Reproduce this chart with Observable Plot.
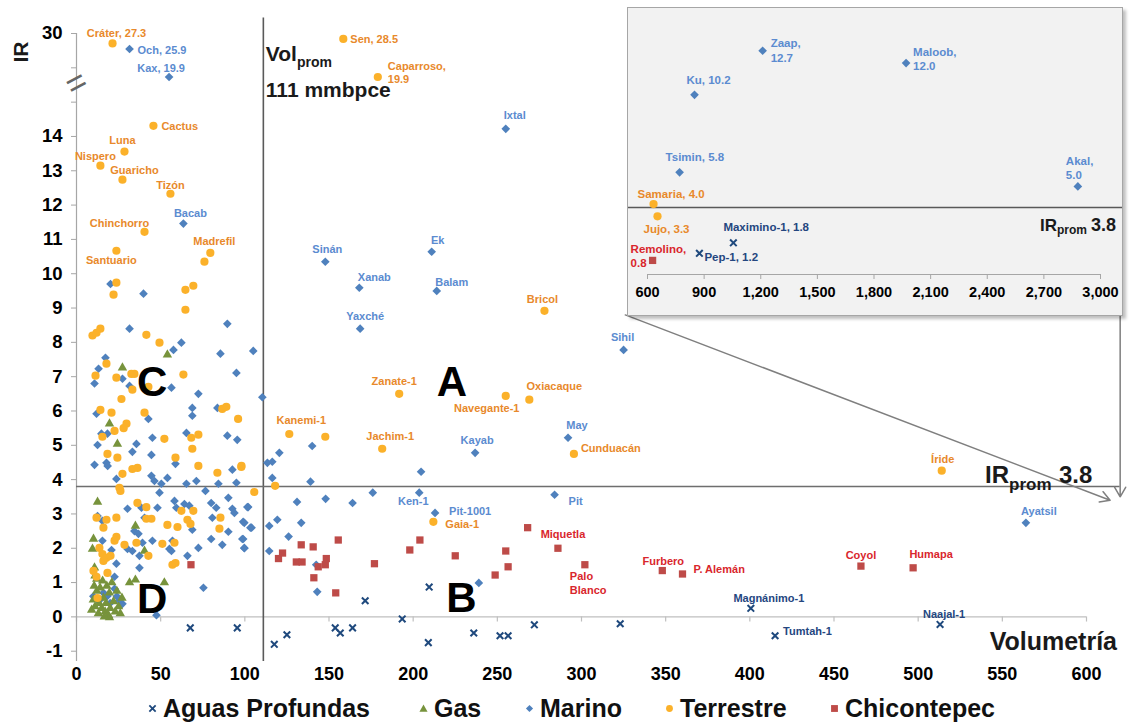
<!DOCTYPE html>
<html><head><meta charset="utf-8">
<script src="https://cdn.jsdelivr.net/npm/d3@7"></script>
<script src="https://cdn.jsdelivr.net/npm/@observablehq/plot@0.6"></script>
<style>
body{margin:0;background:#fff;font-family:"Liberation Sans",Arial,Helvetica,sans-serif;}
#wrap{position:relative;width:1132px;height:727px;overflow:hidden;}
#main{position:absolute;left:0;top:0;}
#inset{position:absolute;left:627px;top:7px;border:1px solid #a6a6a6;box-shadow:3px 3px 3px rgba(0,0,0,0.25);background:#f2f2f2;line-height:0;}
#legend{position:absolute;left:0;top:692px;width:1132px;height:32px;font:bold 25px "Liberation Sans",Arial,sans-serif;color:#111;}
.li{position:absolute;top:0;height:32px;display:flex;align-items:center;white-space:nowrap;}
.li svg{margin-right:6px;}
</style></head><body>
<div id="wrap"><div id="main"></div><div id="inset"></div><div id="legend"></div></div>
<script>
// ---------------- data ----------------
const volProm = 111;
const irProm = 3.8;
const xTicks = [0, 50, 100, 150, 200, 250, 300, 350, 400, 450, 500, 550, 600];
const yTicks = [-1, 0, 1, 2, 3, 4, 5, 6, 7, 8, 9, 10, 11, 12, 13, 14];
const yUpperTicks = [15, 16, 17];       // positions above the axis break
const yTopLabel = "30";                 // value shown at the top of the broken axis
const insetXTicks = [600, 900, 1200, 1500, 1800, 2100, 2400, 2700, 3000];

// [volumetría, IR, name?]
const aguasProfundas = [
  [400.6, 0.25, "Magnánimo-1"], [415, -0.55, "Tumtah-1"], [513, -0.22, "Naajal-1"],
  [209.5, 0.87], [171.5, 0.47], [193.5, -0.06], [117.5, -0.8], [125, -0.52], [153.7, -0.32],
  [156.7, -0.47], [164, -0.32], [209, -0.75], [236, -0.47], [251.6, -0.55], [256.4, -0.55],
  [272, -0.23], [323, -0.2], [67.6, -0.32], [95.5, -0.32]
];
const gas = [
  [54, 7.64], [27.3, 7.26], [19.6, 5.63], [24.3, 5.04], [12.5, 3.35], [35, 2.65], [10.1, 2.27],
  [9.5, 1.98], [10.7, 1.43], [40.4, 1.92], [31.5, 1.0], [35, 1.08], [52.2, 1.0],
  [9, 0.2], [10, 0.5], [10.5, 0.9], [11, 0.3], [12, 1.1], [12, 0.75], [13, 0.1], [13.5, 0.4],
  [14, 0.85], [15, 0.25], [15.5, 1.05], [16, 0.55], [17, 0.15], [17.5, 0.4], [18, 0.9],
  [19, 0.05], [19.5, 0.7], [20, 0.25], [21, 1.0], [22, 0.45], [23, 0.15], [24, 0.75],
  [25, 0.3], [26, 0.1], [27, 0.55], [19.6, -0.02], [11, 1.2], [16.5, 0.0]
];
const marino = [
  [31.5, 25.9, "Och, 25.9"], [55, 19.9, "Kax, 19.9"], [63.5, 11.46, "Bacab"], [255, 14.14, "Ixtal"],
  [147.8, 10.35, "Sinán"], [211, 10.64, "Ek"], [168, 9.59, "Xanab"], [214, 9.5, "Balam"],
  [168.5, 8.4, "Yaxché"], [325, 7.78, "Sihil"], [236.8, 4.78, "Kayab"], [292, 5.22, "May"],
  [564, 2.74, "Ayatsil"], [203.6, 3.62, "Ken-1"], [213, 3.03, "Pit-1001"], [284, 3.56, "Pit"],
  [105, 7.75], [110.4, 6.4], [140, 4.98], [120.5, 4.78], [113.4, 4.49], [116.3, 4.52], [116.3, 4.05],
  [139, 3.94], [204.7, 4.23], [131, 3.35], [148, 3.44], [164, 3.32], [176, 3.62], [102, 3.2],
  [99, 2.77], [104, 2.6], [114.5, 2.65], [119.3, 2.83], [133.5, 2.74], [126, 2.34], [99, 2.27],
  [99.7, 2.0], [114.5, 1.92], [142.4, 1.52], [143, 0.73], [239, 0.99],
  [20.2, 9.7], [39.8, 9.42], [89.6, 8.54], [31.5, 8.4], [62.3, 7.99], [57.6, 7.78], [85.5, 7.67],
  [17.2, 7.55], [13.1, 7.23], [10.7, 6.8], [27.3, 6.94], [31.5, 6.73], [56.4, 6.68], [95, 7.11],
  [72.4, 6.5], [11.9, 5.92], [68.8, 6.09], [68.8, 5.86], [83.7, 6.09], [42.7, 5.77],
  [14.8, 5.34], [18.4, 5.34], [12.5, 5.01], [35.6, 5.04], [33.2, 4.81], [45.1, 5.22], [65.3, 5.36],
  [89.6, 5.28], [95.5, 5.16], [44.5, 4.72], [58.8, 4.46], [10.7, 4.43], [17.8, 4.49], [18.5, 4.4],
  [92.6, 4.29], [23.7, 4.02], [44.5, 4.11], [46.3, 3.96], [50.4, 3.88], [54, 4.05], [65.3, 3.88],
  [71.2, 3.96], [84.3, 3.88], [95, 3.91],
  [49.3, 3.62], [76.6, 3.67], [30.3, 3.15], [38.6, 3.18], [48.1, 3.18], [58.2, 3.38], [59.3, 3.18],
  [64.1, 3.29], [67, 3.24], [80, 3.32], [83, 3.18], [90.2, 3.47], [92.6, 3.15], [93.8, 3.03],
  [101.5, 3.2], [12.5, 2.94], [15.4, 2.8], [34.4, 2.5], [36.8, 2.42], [40.4, 2.89], [68.8, 2.54],
  [80.7, 2.89], [90.2, 2.48], [99.7, 2.74], [103.3, 2.6], [15.4, 2.22], [20.8, 1.95], [30.3, 1.98],
  [33.2, 1.92], [39.2, 2.16], [37.4, 1.78], [45.1, 2.22], [55.2, 1.98], [57, 2.22], [56.4, 1.92],
  [72.4, 2.01], [80, 2.27], [86.6, 2.1], [98.5, 2.27], [99.7, 2.01], [23.7, 1.55], [65.9, 1.78],
  [37.4, 1.43], [22.6, 1.17], [75.4, 0.85], [47.5, 0.05],
  [11.9, 0.52], [22.6, 0.82], [25.5, 0.47], [27.3, 0.38], [18.4, 0.61], [10, 0.6], [14, 0.5],
  [16, 0.7], [20, 0.4], [24, 0.6]
];
const terrestre = [
  [21.4, 27.3, "Cráter, 27.3"], [158.5, 28.5, "Sen, 28.5"], [179, 19.9, "Caparroso,\n19.9"],
  [45.7, 14.26, "Cactus"], [28.5, 13.56, "Luna"], [14.2, 13.15, "Nispero"], [27.3, 12.74, "Guaricho"],
  [55.8, 12.33, "Tizón"], [40.4, 11.22, "Chinchorro"], [23.7, 10.67, "Santuario"],
  [79.5, 10.61, "Madrefil"], [278, 8.92, "Bricol"], [191.7, 6.5, "Zanate-1"],
  [255, 6.44, "Navegante-1"], [269, 6.33, "Oxiacaque"], [126.4, 5.33, "Kanemi-1"],
  [181.6, 4.9, "Jachim-1"], [295.5, 4.75, "Cunduacán"], [514, 4.26, "Íride"], [212, 2.77, "Gaia-1"],
  [76, 10.35], [147.8, 5.25], [23.7, 9.74], [22, 9.39], [64.7, 9.53], [69.4, 9.65], [64.7, 8.95],
  [9.5, 8.2], [11.9, 8.28], [14.2, 8.4], [41.5, 8.22], [49.3, 7.99], [17.8, 7.38], [11.3, 7.03],
  [23.7, 6.97], [32.6, 7.08], [34.4, 7.08], [33.2, 6.62], [42.7, 6.7], [63.5, 7.06], [26.7, 6.35],
  [14.2, 6.03], [20.8, 5.95], [40.4, 5.95], [86.6, 6.06], [89, 6.12], [96, 5.77], [29.7, 5.63],
  [28, 5.5], [15.4, 5.25], [22.6, 5.42], [52.2, 5.19], [68.2, 5.22], [72.4, 5.31], [68.8, 4.9],
  [58.8, 4.64], [18.4, 4.75], [24.3, 4.64], [72.4, 4.4], [33.2, 4.31], [36.2, 4.34], [97.9, 4.37],
  [83.7, 4.2], [27.3, 4.17], [25.5, 3.76], [26.1, 3.67], [105.6, 3.64], [118, 3.82], [98, 4.4],
  [36.2, 3.32], [41.5, 3.2], [62.3, 3.09], [69.4, 3.09], [11.9, 2.89], [17.8, 2.83], [23.7, 2.89],
  [41.5, 2.86], [44.5, 2.86], [54, 2.68], [60, 2.62], [65.9, 2.83], [67.7, 2.71], [85.5, 2.89],
  [84.9, 2.57], [16, 2.6], [23.7, 2.33], [22.6, 2.22], [13.6, 2.01], [28.5, 2.1], [35.6, 2.16],
  [42.7, 1.78], [51, 2.13], [58.2, 2.16], [15.4, 1.83], [17.8, 1.72], [20.2, 1.78], [16, 1.63],
  [57, 1.52], [58.8, 1.57], [10.1, 1.34], [11.9, 1.17], [18.4, 1.28], [12.5, 0.55]
];
const chicontepec = [
  [268, 2.6, "Miquetla"], [302, 1.52, "Palo\nBlanco"], [348, 1.35, "Furbero"], [360, 1.25, "P. Alemán"],
  [466, 1.48, "Coyol"], [497, 1.43, "Humapa"],
  [286, 2.0], [120, 1.7], [122.4, 1.86], [133.5, 2.1], [140.6, 2.04], [155.5, 2.24], [130.6, 1.6],
  [134, 1.6], [143.6, 1.46], [147.8, 1.52], [148.4, 1.7], [141, 1.14], [154, 0.7], [177, 1.55],
  [198, 1.95], [204, 2.24], [225, 1.78], [248.7, 1.22], [255, 1.92], [256.4, 1.46], [68, 1.52]
];

// inset (large fields)
const insetMarino = [[1210, 12.7, "Zaap,\n12.7"], [1970, 12.0, "Maloob,\n12.0"], [849, 10.2, "Ku, 10.2"],
  [770, 5.8, "Tsimin, 5.8"], [2880, 5.0, "Akal,\n5.0"]];
const insetTerrestre = [[632, 4.0, "Samaria, 4.0"], [653, 3.3, "Jujo, 3.3"]];
const insetAguasProfundas = [[1055, 1.8, "Maximino-1, 1.8"], [875, 1.2, "Pep-1, 1.2"]];
const insetChicontepec = [[627, 0.8, "Remolino,\n0.8"]];

const legendLabels = ["Aguas Profundas", "Gas", "Marino", "Terrestre", "Chicontepec"];

// ---------------- layout / style ----------------
const FONT = '"Liberation Sans", Arial, Helvetica, sans-serif';
const catStyle = {
  aguas: {dot: {symbol: "times", stroke: "#1f497d", strokeWidth: 2, r: 3.1}, label: "#24467f"},
  gas: {dot: {symbol: "triangle", fill: "#77933c", r: 3.5}, label: "#77933c"},
  marino: {dot: {symbol: "diamond2", fill: "#4f81bd", r: 3.9}, label: "#5b8bd0"},
  terrestre: {dot: {symbol: "circle", fill: "#fbb12a", r: 4.1}, label: "#e8892b"},
  chicontepec: {dot: {symbol: "square", fill: "#be4b48", r: 4.1}, label: "#d9262c"}
};
// [textAnchor, dx, dy] for each label
const labelPlacement = {
  "Cráter, 27.3": ["middle", 4, -11], "Och, 25.9": ["start", 8, 1], "Kax, 19.9": ["middle", -8, -9],
  "Sen, 28.5": ["start", 7, 0], "Caparroso,\n19.9": ["start", 10, -5], "Cactus": ["start", 8, 0],
  "Luna": ["middle", -2, -12], "Nispero": ["middle", -5, -10], "Guaricho": ["middle", 12, -10],
  "Tizón": ["middle", 0, -9], "Bacab": ["middle", 7, -11], "Chinchorro": ["middle", -25, -9],
  "Santuario": ["middle", -5, 9], "Madrefil": ["middle", 4, -12], "Ixtal": ["middle", 9, -14],
  "Sinán": ["middle", 2, -13], "Ek": ["middle", 6, -12], "Xanab": ["middle", 15, -11],
  "Balam": ["middle", 15, -9], "Yaxché": ["middle", 5, -13], "Bricol": ["middle", -2, -12],
  "Sihil": ["middle", -1, -13], "Zanate-1": ["middle", -5, -13], "Navegante-1": ["middle", -19, 12],
  "Oxiacaque": ["middle", 25, -14], "Kanemi-1": ["middle", 12, -14], "Jachim-1": ["middle", 8, -13],
  "Kayab": ["middle", 2, -13], "May": ["middle", 9, -13], "Cunduacán": ["start", 7, -6],
  "Íride": ["middle", 1, -12], "Ayatsil": ["middle", 13, -12], "Ken-1": ["middle", -6, 8],
  "Pit-1001": ["start", 14, -2], "Gaia-1": ["start", 12, 2], "Pit": ["start", 14, 6],
  "Miquetla": ["start", 13, 6], "Palo\nBlanco": ["start", -15, 18], "Furbero": ["middle", 1, -10],
  "P. Alemán": ["start", 11, -5], "Coyol": ["middle", 0, -12], "Humapa": ["middle", 18, -14],
  "Magnánimo-1": ["middle", 18, -11], "Tumtah-1": ["start", 8, -5], "Naajal-1": ["middle", 4, -11],
  "Zaap,\n12.7": ["start", 8, -1], "Maloob,\n12.0": ["start", 7, -5], "Ku, 10.2": ["start", -8, -15],
  "Tsimin, 5.8": ["start", -14, -16], "Akal,\n5.0": ["start", -12, -19], "Samaria, 4.0": ["start", -16, -11],
  "Jujo, 3.3": ["start", -14, 12], "Maximino-1, 1.8": ["start", -10, -16], "Pep-1, 1.2": ["start", 5, 3],
  "Remolino,\n0.8": ["start", -22, -5]
};
const quadrantLetters = [["A", 223, 6.82], ["B", 228.6, 0.52], ["C", 45, 6.82], ["D", 44.9, 0.5]];
const connectors = [
  {x1: 326, y1: 8.8, x2: 614, y2: 3.4},
  {x1: 620, y1: 8.8, x2: 620, y2: 3.5}
];
const legendLeft = [148, 419, 525, 665, 830];

// broken axis mapping (display units)
const dispIR = v => v <= 14 ? v : 14 + 3 * Math.pow((v - 14) / 16, 0.55);

function rows(arr, cat, mapY) {
  return arr.map(([vol, ir, name]) => ({cat, vol, ir, y: mapY ? dispIR(ir) : ir, name}));
}
const mainSets = [
  ["marino", rows(marino, "marino", true)],
  ["gas", rows(gas, "gas", true)],
  ["terrestre", rows(terrestre, "terrestre", true)],
  ["chicontepec", rows(chicontepec, "chicontepec", true)],
  ["aguas", rows(aguasProfundas, "aguas", true)]
];
const insetSets = [
  ["marino", rows(insetMarino, "marino", false)],
  ["terrestre", rows(insetTerrestre, "terrestre", false)],
  ["chicontepec", rows(insetChicontepec, "chicontepec", false)],
  ["aguas", rows(insetAguasProfundas, "aguas", false)]
];

function dotMarks(sets) {
  return sets.map(([cat, data]) => Plot.dot(data, {x: "vol", y: "y", ...catStyle[cat].dot}));
}
function labelMarks(sets, size) {
  const out = [];
  for (const [cat, data] of sets) {
    for (const d of data.filter(d => d.name)) {
      const [anchor, dx, dy] = labelPlacement[d.name] || ["start", 6, 0];
      out.push(Plot.text([d], {x: "vol", y: "y", text: "name", textAnchor: anchor, dx, dy,
        fill: catStyle[cat].label, fontSize: size, fontWeight: "bold", lineHeight: 1.25}));
    }
  }
  return out;
}

// ---------------- main chart ----------------
const W = 1132, H = 692;
const yDomain = [-1.3, 17.35];
const chart = Plot.plot({
  width: W, height: H,
  marginLeft: 76, marginRight: 46, marginTop: 21, marginBottom: 31,
  x: {domain: [0, 600]},
  y: {domain: yDomain},
  style: {fontFamily: FONT, background: "white", overflow: "visible"},
  marks: [
    Plot.ruleY([0], {x1: 0, x2: 600, stroke: "#bfbfbf", strokeWidth: 1.2}),
    Plot.ruleX(xTicks, {x: d => d, y1: 0, y2: -0.15, stroke: "#bfbfbf", strokeWidth: 1.2}),
    Plot.ruleX([0], {y1: yDomain[0], y2: 17, stroke: "#a6a6a6", strokeWidth: 1.2}),
    Plot.axisY([...yTicks, ...yUpperTicks], {tickSize: 5, tickPadding: 9, stroke: "#a6a6a6",
      tickFormat: d => d === 17 ? yTopLabel : d > 14 ? "" : String(d), fontSize: 18.5, fontWeight: "bold", label: null}),
    Plot.axisX(xTicks, {anchor: "bottom", tickSize: 0, tickPadding: 6, fontSize: 18, fontWeight: "bold", label: null}),
    Plot.text([15.55], {x: 0, y: d => d, text: () => "=", rotate: -28, fontSize: 34, fill: "#666"}),
    Plot.ruleX([volProm], {y1: yDomain[0], y2: 17.45, stroke: "#5a5a5a", strokeWidth: 1.6}),
    Plot.ruleY([irProm], {x1: 0, x2: 620, stroke: "#6e6e6e", strokeWidth: 1.6}),
    Plot.arrow(connectors, {x1: "x1", y1: "y1", x2: "x2", y2: "y2", stroke: "#7f7f7f", strokeWidth: 1.5, headLength: 11}),
    ...dotMarks(mainSets),
    ...labelMarks(mainSets, 11),
    Plot.text(quadrantLetters, {x: d => d[1], y: d => d[2], text: d => d[0], fontSize: 42, fontWeight: "bold", fill: "#000"})
  ]
});
document.getElementById("main").appendChild(chart);

const sx = chart.scale("x"), sy = chart.scale("y");
const svg = d3.select(chart);
function rich(sel, x, y, parts, anchor) {
  const t = sel.append("text").attr("x", x).attr("y", y).attr("text-anchor", anchor || "start")
    .attr("font-family", FONT).attr("font-weight", "bold").attr("fill", "#1a1a1a");
  for (const [s, size, dy] of parts) t.append("tspan").attr("font-size", size).attr("dy", dy).text(s);
  return t;
}
const vx = sx.apply(volProm) + 3;
rich(svg, vx, 61, [["Vol", 21, 0], ["prom", 14, 6]]);
rich(svg, vx, 97, [["111 mmbpce", 21, 0]]);
const iy = sy.apply(irProm) - 3;
rich(svg, 985, iy, [["IR", 24, 0], ["prom", 17, 7]]);
rich(svg, 1059, iy, [["3.8", 24, 0]]);
rich(svg, sx.apply(600) + 31, 650, [["Volumetría", 25, 0]], "end");
svg.append("text").attr("transform", `translate(28,52) rotate(-90)`).attr("text-anchor", "middle")
  .attr("font-family", FONT).attr("font-weight", "bold").attr("font-size", 21).attr("fill", "#1a1a1a").text("IR");

// ---------------- inset ----------------
const inset = Plot.plot({
  width: 494, height: 307,
  marginLeft: 19, marginRight: 22, marginTop: 0, marginBottom: 41,
  x: {domain: [600, 3000]},
  y: {domain: [0, 15.1], axis: null},
  style: {fontFamily: FONT, background: "#f2f2f2"},
  marks: [
    Plot.ruleY([irProm], {x1: 0, x2: 4000, stroke: "#595959", strokeWidth: 1.6}),
    Plot.ruleY([0], {x1: 600, x2: 3000, stroke: "#a6a6a6", strokeWidth: 1.2}),
    Plot.axisX(insetXTicks, {anchor: "bottom", tickSize: 5, tickPadding: 7, stroke: "#a6a6a6",
      tickFormat: d3.format(","), fontSize: 14.5, fontWeight: "bold", label: null}),
    ...dotMarks(insetSets),
    ...labelMarks(insetSets, 11.5)
  ]
});
document.getElementById("inset").appendChild(inset);
const isvg = d3.select(inset);
const iy2 = inset.scale("y").apply(irProm) + 24;
rich(isvg, 412, iy2, [["IR", 17, 0], ["prom", 12, 3]]);
rich(isvg, 463, iy2, [["3.8", 18, 0]]);

// ---------------- legend ----------------
const legendSymbols = [
  '<svg width="9" height="9" viewBox="-5 -5 10 10"><path d="M-3.5,-3.5L3.5,3.5M3.5,-3.5L-3.5,3.5" stroke="#1f497d" stroke-width="2"/></svg>',
  '<svg width="9" height="9" viewBox="-5 -5 10 10"><path d="M0,-4.5L4.5,3.5L-4.5,3.5Z" fill="#77933c"/></svg>',
  '<svg width="9" height="9" viewBox="-5 -5 10 10"><path d="M0,-4L4,0L0,4L-4,0Z" fill="#4f81bd"/></svg>',
  '<svg width="9" height="9" viewBox="-5 -5 10 10"><circle r="3.8" fill="#fbb12a"/></svg>',
  '<svg width="9" height="9" viewBox="-5 -5 10 10"><rect x="-3.8" y="-3.8" width="7.6" height="7.6" fill="#be4b48"/></svg>'
];
const legend = document.getElementById("legend");
legendLabels.forEach((lab, i) => {
  const el = document.createElement("div");
  el.className = "li";
  el.style.left = legendLeft[i] + "px";
  el.innerHTML = legendSymbols[i] + "<span>" + lab + "</span>";
  legend.appendChild(el);
});
</script></body></html>
